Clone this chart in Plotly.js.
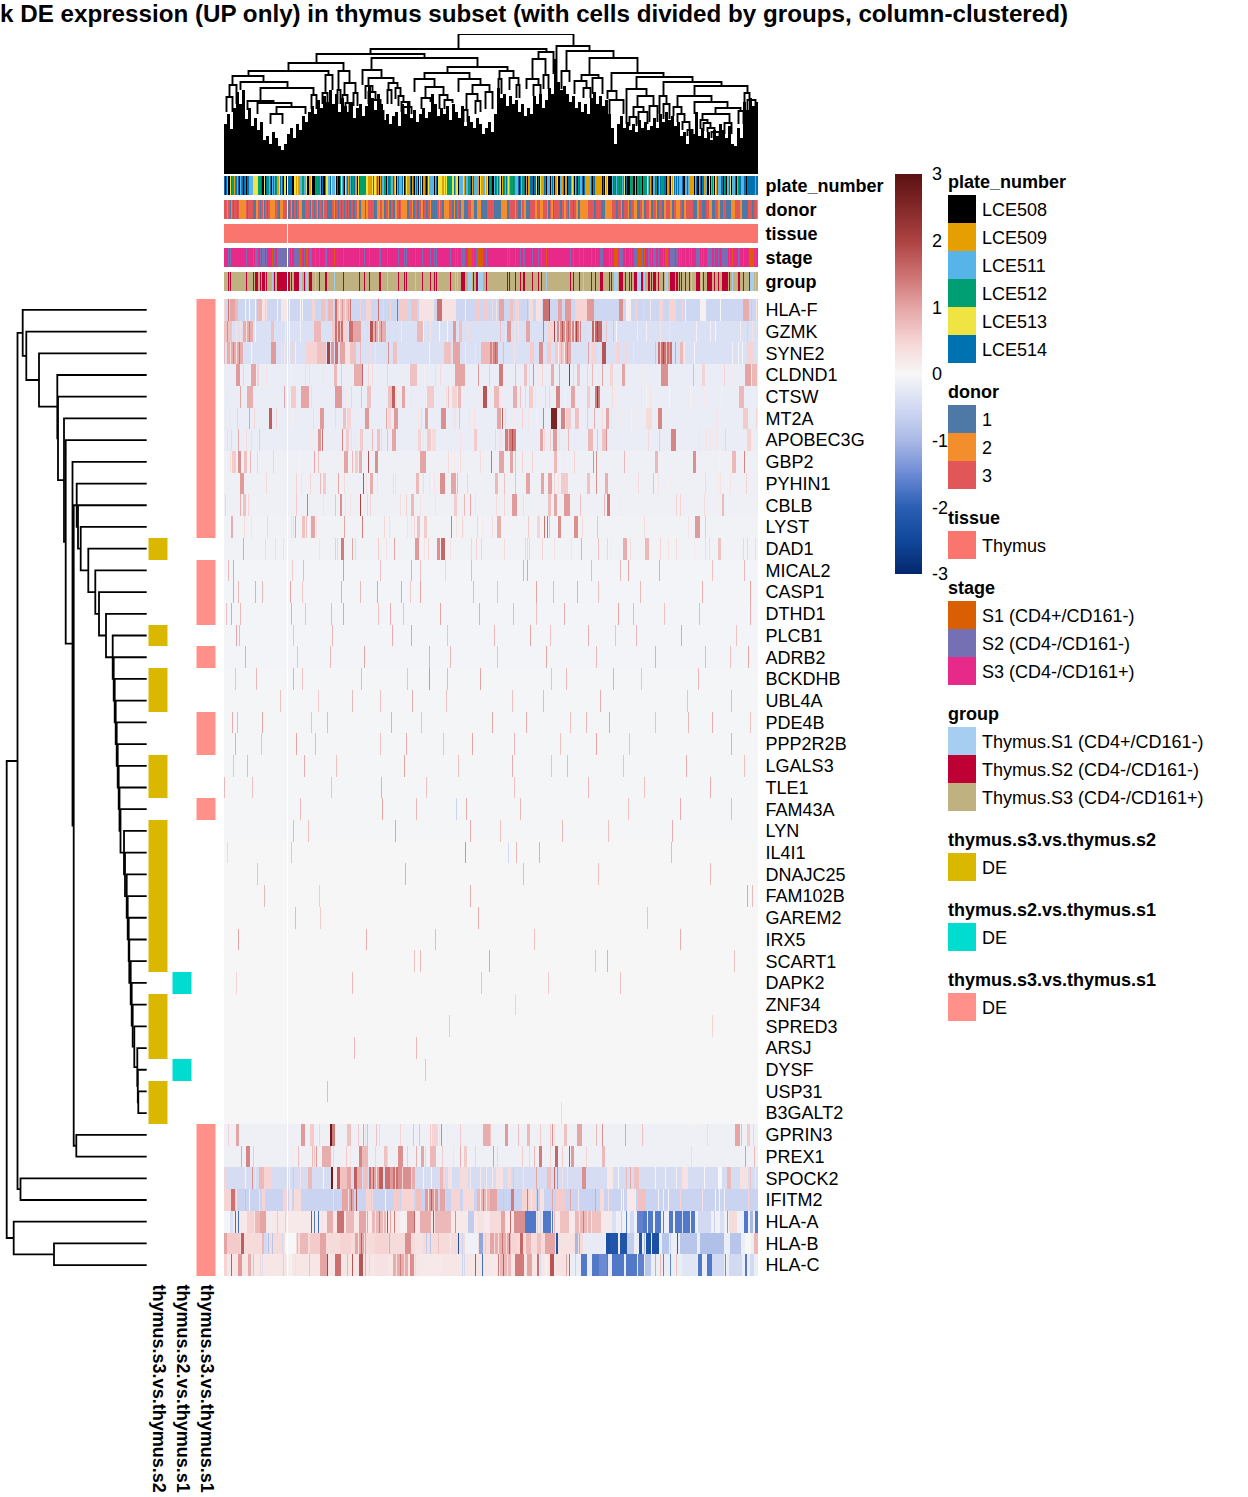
<!DOCTYPE html>
<html><head><meta charset="utf-8">
<script src="https://cdn.plot.ly/plotly-3.0.1.min.js"></script>
<style>html,body{margin:0;padding:0;background:#fff}</style></head>
<body><div id="chart" style="width:1248px;height:1497px"></div>
<script>
const genes=["HLA-F","GZMK","SYNE2","CLDND1","CTSW","MT2A","APOBEC3G","GBP2","PYHIN1","CBLB","LYST","DAD1","MICAL2","CASP1","DTHD1","PLCB1","ADRB2","BCKDHB","UBL4A","PDE4B","PPP2R2B","LGALS3","TLE1","FAM43A","LYN","IL4I1","DNAJC25","FAM102B","GAREM2","IRX5","SCART1","DAPK2","ZNF34","SPRED3","ARSJ","DYSF","USP31","B3GALT2","GPRIN3","PREX1","SPOCK2","IFITM2","HLA-A","HLA-B","HLA-C"];
const titleText="k DE expression (UP only) in thymus subset (with cells divided by groups, column-clustered)";
const nCols=534, gapCol=63;
const baseLevel=[-.55,-.38,-.38,-.17,-.17,-.17,-.17,-.12,-.12,-.12,-.08,-.08,-.05,-.05,-.05,-.05,-.05,-.04,-.04,-.04,-.04,-.04,-.04,-.04,-.04,-.01,-.01,-.01,-.01,-.01,-.01,-.01,-.01,-.01,-.01,-.01,-.01,-.01,-.12,-.12,-.45,-.6,.2,.4,.25];
// expression hits per gene: [column, value] or [column, width, value]
const hits=[];
hits[0]=[[0,.5],[4,1.5],[6,5,1],[11,3,.8],[21,0],[25,0],[31,0],[33,5,.8],[38,3,.3],[42,.3],[53,0],[57,7,.25],[65,0],[76,0],[78,0],[88,3,.5],[97,4,.7],[104,5,.8],[111,2,1.5],[113,13,.7],[115,.2],[118,1.1],[121,.3],[124,1],[126,1.5],[136,.5],[142,5,.5],[154,1.5],[159,.5],[166,.5],[173,1.6],[175,8,.6],[187,6,.7],[195,15,.3],[213,5,1.5],[218,14,.3],[241,.1],[252,3,.6],[260,3,.6],[268,.4],[272,.3],[275,5,1],[286,3,.7],[291,4,.5],[303,.8],[305,4,.4],[312,6,.3],[319,6,1.5],[325,2],[334,4,1],[341,6,1.1],[351,12,.5],[363,7,1.1],[395,4,1.2],[402,5,.1],[412,.5],[419,.5],[426,.2],[435,4,.5],[445,7,.5],[458,.5],[461,0],[476,6,.1],[496,0],[519,6,.9],[527,.7],[532,.3]];
hits[1]=[[0,8,.7],[3,1.2],[12,.3],[16,.3],[19,10,.9],[22,.3],[25,1.3],[31,0],[47,3,.7],[61,.2],[65,0],[76,.1],[90,7,.8],[108,4,.6],[111,8,1.5],[113,.5],[116,.7],[120,4,.5],[125,5,1.5],[129,8,1],[143,.5],[146,4,1.8],[149,13,.9],[151,1.6],[154,.3],[157,1.4],[165,.5],[171,.5],[177,.2],[193,6,.8],[199,0],[206,.3],[215,0],[223,0],[229,3,1.1],[235,3,.7],[244,.4],[276,.7],[281,.3],[283,4,1.1],[290,.3],[294,.3],[302,4,1],[319,1.4],[324,5,.5],[330,2],[333,14,1.2],[335,.3],[338,1.8],[341,.4],[344,1.6],[348,9,1.3],[350,.4],[352,2],[355,.5],[361,.5],[368,10,1.6],[370,.4],[373,2],[382,.7],[389,.7],[392,0],[413,.2],[422,.1],[436,.3],[445,.3],[472,.1],[486,.1],[491,0],[516,.2],[523,.6],[528,.3]];
hits[2]=[[0,.8],[3,16,.9],[6,.4],[9,1.3],[12,.3],[15,1.4],[27,0],[47,5,1.1],[57,.3],[60,.2],[65,.1],[67,3,.5],[71,.1],[82,12,.5],[93,9,.7],[103,3,2],[107,3,1.1],[111,3,1.5],[116,6,1],[121,6,.3],[126,6,.7],[136,.8],[146,.4],[151,.3],[164,1.2],[169,4,.7],[205,.05],[220,7,.7],[229,7,1],[241,.2],[251,.3],[257,10,.8],[266,8,1.3],[268,.8],[271,1.6],[279,.8],[290,.3],[306,4,.6],[315,4,1.2],[323,4,.6],[331,11,.6],[334,.1],[337,.9],[340,.2],[341,6,1],[343,1.4],[364,1],[368,4,.5],[375,.4],[378,4,1.8],[392,4,.5],[402,.5],[409,.3],[431,.8],[434,14,1.5],[436,.6],[439,1.9],[442,.7],[445,1.1],[451,1],[456,3,.8],[460,.2],[470,0],[508,.05],[514,.05],[518,0],[523,7,.5]];
hits[3]=[[12,4,1.1],[19,.5],[27,5,1],[33,.5],[34,.5],[42,.3],[67,.1],[81,.4],[85,.4],[99,.3],[110,3,.8],[117,.6],[130,4,.9],[134,4,.9],[138,1.6],[144,.5],[148,.4],[163,.5],[186,7,.7],[200,.1],[211,.4],[216,.4],[231,10,1],[254,1.1],[265,.6],[275,4,1.4],[291,.7],[300,3,.7],[305,.4],[309,1.2],[314,.3],[318,.5],[327,3,.9],[335,.9],[345,2.2],[349,.5],[353,3,.7],[363,.5],[368,.8],[378,1],[386,3,.5],[398,3,1],[415,.2],[418,.2],[437,7,1.2],[449,.2],[469,.8],[478,3,.5],[500,.5],[508,.2],[521,6,1],[528,4,.8],[532,.8]];
hits[4]=[[3,.3],[16,1],[23,6,.9],[60,1],[67,5,.6],[77,8,1],[87,.4],[111,7,1.1],[119,.3],[122,.2],[127,.5],[137,.7],[143,4,.7],[164,6,.7],[168,3,1.7],[172,.4],[178,3,1],[187,.3],[203,7,.6],[222,.4],[224,.7],[228,5,.5],[234,3,.8],[256,.2],[259,4,1.8],[270,5,.8],[276,.3],[289,4,.9],[296,.7],[301,.5],[305,4,.6],[311,.3],[321,.5],[325,.5],[332,4,1.3],[341,.1],[347,4,1],[363,3,.6],[371,5,1.4],[373,2.2],[388,.4],[392,.2],[417,.3],[422,.1],[426,.3],[445,.05],[466,.1],[480,.2],[489,.2],[497,.1],[515,5,.8]];
hits[5]=[[1,.3],[5,.3],[13,.5],[25,1],[30,.5],[45,3,1.7],[52,.5],[68,.1],[89,.4],[96,4,1.1],[111,.4],[119,3,.7],[123,4,.5],[131,.2],[141,4,1.1],[162,1],[164,3,.5],[170,4,1.1],[194,.3],[197,.5],[201,3,1],[217,5,1.2],[229,3,.3],[235,.7],[245,.3],[248,.2],[250,.3],[273,4,1],[278,1.7],[281,.5],[290,.2],[298,.5],[304,.3],[313,.1],[319,1.4],[327,6,2.6],[337,4,1.3],[342,5,.6],[351,4,.7],[363,.6],[370,.9],[378,.4],[382,3,1],[387,.3],[396,.2],[407,.1],[412,.2],[422,6,.4],[434,4,1.3],[492,.3],[519,5,.6],[532,.5]];
hits[6]=[[1,.2],[3,.4],[7,.5],[14,.9],[22,.4],[27,.4],[35,.6],[86,.2],[94,3,1.1],[98,1.5],[118,1.3],[122,3,.6],[127,.4],[131,.3],[136,3,.6],[148,.8],[153,3,.7],[157,.5],[163,.7],[168,4,1],[194,3,.5],[199,.3],[203,4,.6],[208,4,.4],[236,.3],[250,3,.6],[271,.5],[275,3,.3],[281,11,1.4],[284,.7],[288,1.9],[316,3,1],[320,.5],[326,.6],[329,4,1.1],[335,.4],[344,.8],[364,5,.8],[373,.7],[378,4,.7],[382,1.2],[391,.2],[424,.4],[435,.6],[447,5,1.3],[475,.3],[482,.3],[486,.3],[492,.3],[501,.5],[523,4,.5],[528,.2]];
hits[7]=[[6,.4],[8,4,.6],[14,3,1.2],[20,3,.7],[26,.8],[33,.5],[49,.5],[75,.05],[90,1],[94,.7],[120,4,1],[128,.8],[131,3,.6],[135,3,.9],[144,1.8],[151,3,1.2],[196,6,1],[224,.4],[230,.2],[236,.4],[256,.4],[267,1.5],[275,5,1],[286,3,1],[291,.7],[298,.5],[308,.5],[330,3,.8],[339,.2],[350,.5],[369,1.2],[372,1.2],[400,.8],[431,3,.8],[469,3,1.2],[495,.1],[508,4,.8],[520,1.3]];
hits[8]=[[16,4,1.1],[42,.4],[72,.5],[77,.3],[86,.5],[96,.8],[99,3,.6],[114,1],[120,.4],[139,1.8],[142,.3],[146,3,.9],[153,.3],[169,.4],[171,.3],[192,3,.8],[199,.4],[205,.3],[210,.3],[216,5,1.2],[227,5,1],[233,.8],[243,.5],[271,3,.8],[280,.7],[291,.7],[302,4,1],[317,3,1],[324,4,1],[330,.5],[334,.3],[337,7,.6],[363,3,.7],[372,1.2],[381,3,.9],[414,.4],[429,.7],[434,.3],[444,.1],[481,.4],[494,.2],[496,.3],[506,.3],[522,.5]];
hits[9]=[[1,.5],[16,.9],[19,3,.7],[24,.5],[31,.1],[72,.6],[83,1.4],[99,.3],[111,.7],[116,2,1.2],[121,.3],[126,.3],[136,2],[143,.5],[146,.5],[176,.4],[182,.5],[187,3,.8],[196,.3],[211,.3],[230,3,.6],[240,.8],[246,1],[251,.3],[272,.4],[280,.5],[288,5,1.1],[299,.4],[324,3,.7],[330,3,1],[340,6,1.1],[356,.7],[380,.8],[383,3,1.4],[395,.2],[452,.5],[456,.5],[480,.4],[498,2,.8]];
hits[10]=[[7,2,.9],[20,.4],[27,.3],[43,.5],[67,.4],[69,.4],[71,1],[78,3,.7],[82,.7],[87,4,1],[92,.3],[120,1],[138,1.4],[160,.5],[165,.4],[183,.3],[187,.3],[190,.5],[193,3,.7],[200,3,.6],[227,1.4],[232,.3],[238,.5],[253,.5],[258,.2],[268,.4],[273,4,.9],[304,.6],[313,3,.5],[320,1.5],[323,1.5],[325,.7],[334,3,1.2],[350,4,1.2],[358,.4],[373,.7],[420,.4],[464,.3],[471,5,1.1],[481,.6]];
hits[11]=[[19,1],[41,.4],[51,.4],[59,.4],[95,.3],[111,.6],[113,.5],[117,3,1.4],[128,1],[131,.5],[154,.6],[162,.3],[170,1],[191,4,1.1],[200,.3],[204,.5],[213,3,1.2],[217,4,1.6],[226,.3],[247,.5],[252,.5],[257,.5],[280,.4],[301,.5],[303,.5],[305,.5],[318,.5],[330,.3],[347,.3],[357,.9],[374,.7],[383,.5],[387,.2],[399,4,.9],[406,.4],[421,4,.8],[436,.5],[444,.3],[452,.4],[470,.2],[481,.4],[485,.4],[494,3,.7],[519,.5],[523,.5],[531,.4]];
hits[12]=[[4,.8],[9,1],[68,.6],[79,.8],[119,1.1],[156,.7],[187,.9],[196,.7],[221,.5],[247,.8],[299,.9],[303,1],[367,.8],[396,.8],[404,1],[435,.9],[488,.7],[520,.8]];
hits[13]=[[9,1],[14,.8],[31,.9],[38,.8],[66,1],[78,.6],[117,.9],[136,.8],[153,1],[177,1],[186,.6],[196,1],[249,.8],[273,.7],[312,1],[329,.8],[353,.9],[374,.7],[416,.8],[478,.9],[526,1]];
hits[14]=[[2,.7],[7,1],[16,.8],[67,.9],[81,.7],[107,.8],[119,1],[154,.7],[166,.9],[179,.7],[216,1],[255,.9],[289,.8],[312,.7],[340,.9],[394,1],[409,.8],[440,.7],[475,.8],[526,.9]];
hits[15]=[[12,1],[15,.8],[69,.7],[108,.8],[168,.9],[187,1],[223,.7],[270,.8],[306,1],[326,.7],[364,.9],[391,.7],[412,.8],[457,1],[512,.7]];
hits[16]=[[21,.9],[73,.7],[106,.8],[140,1],[205,-.9],[226,.8],[273,.7],[322,1],[372,.8],[431,.9],[481,.8],[506,.7],[524,1]];
hits[17]=[[11,.7],[32,.8],[69,.9],[78,.7],[137,.8],[183,.7],[205,-1.2],[223,.8],[256,1],[327,.7],[342,.8],[389,.9],[417,.7],[474,.8]];
hits[18]=[[56,.7],[94,.6],[128,.8],[156,.7],[188,.9],[222,.7],[288,.7],[319,.8],[376,.9],[463,.7],[507,.8]];
hits[19]=[[8,.9],[13,.8],[38,1],[87,.7],[103,.8],[167,.9],[197,.7],[268,1],[302,.9],[346,.7],[362,.8],[385,1],[431,.7],[464,.8],[488,.9],[526,.7]];
hits[20]=[[11,.9],[37,.7],[72,1],[91,.8],[156,.7],[182,.9],[219,.7],[248,1],[290,.8],[336,.7],[372,1],[405,.7],[507,.9]];
hits[21]=[[9,.7],[23,.8],[80,.9],[112,.7],[180,1],[234,.7],[288,.9],[327,.7],[343,.8],[399,.7],[462,.9],[520,.7]];
hits[22]=[[0,.8],[28,.7],[107,.7],[157,.9],[202,.7],[290,.7],[364,.8],[420,.7],[486,.9]];
hits[23]=[[76,.8],[158,1],[192,.8],[232,-.6],[242,.9],[296,.8],[404,.7],[456,.9],[507,.8]];
hits[24]=[[69,.8],[84,.7],[171,1],[246,.9],[276,.7],[338,.8],[384,.7],[448,.9]];
hits[25]=[[3,.5],[67,.7],[241,1.2],[284,-.5],[292,.8],[315,.9],[447,.8]];
hits[26]=[[33,.7],[181,.9],[299,.8],[374,.7],[486,.8]];
hits[27]=[[40,.8],[95,.6],[246,.9],[523,1],[528,.8]];
hits[28]=[[71,.8],[96,.6],[254,.9],[423,.7]];
hits[29]=[[14,1],[142,.9],[211,.8],[310,.7],[456,.9]];
hits[30]=[[190,.7],[196,.8],[265,1],[371,.7],[383,.9],[510,.7]];
hits[31]=[[12,.5],[128,.8],[257,.7],[324,.6],[396,.7]];
hits[32]=[[291,-.5]];
hits[33]=[[225,-.6],[488,.5]];
hits[34]=[[130,.8],[192,.8]];
hits[35]=[[201,.7]];
hits[36]=[[103,.8]];
hits[37]=[[337,-.4]];
hits[38]=[[4,.5],[12,3,1],[77,4,1.1],[86,4,.6],[95,.5],[106,3,2.8],[108,3,1.4],[123,4,.7],[134,.6],[139,1],[141,.4],[143,.8],[152,.7],[155,.5],[176,.5],[189,.7],[195,.7],[206,.6],[208,6,.5],[215,.3],[217,1.3],[223,.2],[236,.6],[259,7,.9],[266,.7],[281,3,1.1],[294,.7],[303,3,.8],[316,.6],[326,.6],[328,1.2],[330,.4],[340,3,.7],[353,5,1],[372,.8],[378,1.2],[401,1],[418,.7],[470,.1],[483,.4],[511,5,1],[517,.8],[523,3,.6],[529,.5]];
hits[39]=[[17,1],[22,4,1.3],[29,.6],[68,.2],[74,.7],[88,.8],[90,.7],[92,1.1],[98,9,.9],[109,.5],[122,.6],[126,.3],[135,4,1.3],[138,6,.8],[151,.5],[160,3,.7],[163,.5],[174,5,1.2],[183,.6],[192,.9],[197,3,1],[201,.5],[206,6,.8],[218,.6],[229,.3],[236,.9],[240,3,.6],[251,.5],[269,1.1],[273,.5],[298,.6],[305,.5],[310,.8],[315,3,1.4],[326,.5],[331,3,1.6],[338,.6],[345,1.8],[347,3,1.1],[362,.5],[378,3,.8],[467,.4],[521,1.1],[530,.8]];
hits[40]=[[0,.5],[21,0],[28,1.2],[31,.3],[35,5,.8],[40,7,.5],[65,.1],[69,.7],[76,.3],[84,4,.8],[99,0],[107,3,2.8],[109,5,.2],[113,4,1.7],[116,8,.7],[123,4,1],[130,4,1.7],[133,5,.9],[139,5,.7],[145,3,1.5],[147,10,1],[149,1.7],[152,.4],[155,1.6],[156,3,1.7],[161,6,1.5],[166,8,1.1],[169,6,1.5],[171,.6],[174,9,1.2],[178,.5],[182,5,1.2],[188,3,.9],[199,0],[207,0],[216,3,.8],[220,.5],[224,4,.3],[236,8,.4],[246,.2],[256,.2],[262,.2],[268,.2],[272,7,.3],[284,3,.4],[289,.7],[299,.2],[312,1],[323,4,.7],[330,1.6],[333,1.2],[338,.3],[343,.3],[358,4,1.2],[383,6,.2],[394,0],[402,.8],[406,1],[410,5,.7],[431,0],[441,0],[452,.1],[458,6,.3],[467,.5],[480,0],[494,4,0],[503,4,.8],[516,8,.3],[526,.7],[531,.3]];
hits[41]=[[0,7,.5],[7,4,1.5],[12,.3],[21,.8],[25,0],[35,.3],[38,3,.5],[59,4,.5],[65,3,.3],[70,7,.4],[109,.4],[115,.6],[118,4,1],[122,8,1],[124,.3],[127,1.6],[132,1.8],[142,5,.5],[148,.4],[161,0],[169,7,.6],[177,13,.5],[192,5,.7],[201,13,1.1],[204,.3],[207,1.7],[210,.5],[216,5,1],[227,9,.5],[239,11,.4],[253,14,.8],[256,.2],[259,1.4],[262,.3],[266,7,1],[279,.7],[283,.6],[287,3,1.4],[298,14,.5],[303,1.4],[307,.2],[313,1.3],[316,4,.3],[328,1],[332,10,.6],[346,1],[354,.2],[371,1],[376,4,.4],[384,.3],[397,0],[399,0],[403,9,.2],[414,8,.7],[434,.1],[439,.1],[444,0],[456,.5],[478,.3],[491,0],[495,0],[500,.1],[524,.5]];
hits[42]=[[388,146,-.1],[0,7,-.05],[6,3,-.4],[11,-1.8],[14,-1.8],[23,7,.5],[31,11,.8],[36,6,1],[46,-.1],[53,-.6],[61,-.5],[73,-.2],[87,-1.8],[90,-1.7],[94,-1.8],[98,.3],[103,6,.9],[113,7,1.5],[122,8,.8],[135,7,1],[143,-1],[148,14,.8],[151,.2],[155,1.4],[159,.3],[163,-1.8],[166,1],[170,1.4],[176,8,.1],[183,7,1.1],[190,1.6],[196,11,.9],[209,-1.8],[211,16,.8],[231,1.2],[244,6,-.7],[253,7,.3],[266,11,.4],[277,4,1],[286,1.6],[290,11,1.2],[301,8,-1.7],[309,3,-1.7],[313,-.5],[316,-.5],[319,8,-1.7],[328,-1.7],[330,.8],[336,9,.7],[351,16,.8],[355,.2],[359,1.4],[363,.3],[368,9,.7],[388,4,-.4],[394,-.2],[397,.7],[402,-1.6],[406,4,-.5],[413,6,-1.6],[419,4,-1.7],[424,5,-1.7],[431,6,-1.7],[439,-1.6],[445,4,-1.7],[451,15,-1.7],[458,-.4],[467,4,-1.7],[474,13,-.5],[490,-.6],[496,4,-.4],[503,1.3],[505,8,.4],[520,4,-1.7],[526,3,-1],[531,3,-1.7]];
hits[43]=[[359,175,-.15],[0,4,1],[3,13,.6],[17,3,1.7],[38,3,.8],[40,3,-.5],[44,-.9],[48,-.8],[58,-.5],[61,11,0],[73,-.8],[76,8,.8],[86,11,.6],[96,6,1],[116,11,.5],[131,11,1],[134,.3],[137,1.7],[140,.4],[151,13,.5],[165,-1],[181,6,1.2],[191,8,.3],[202,-.7],[206,-.8],[214,.7],[226,.2],[234,-2.2],[238,-.6],[241,13,-.1],[255,4,-1.2],[261,-.6],[266,4,1],[271,16,.9],[274,.3],[278,1.5],[282,.4],[285,1.7],[288,5,.5],[296,3,1.6],[302,5,.8],[313,4,.7],[321,10,1],[332,3,-2.2],[334,16,.3],[351,3,-1],[355,1],[359,21,-.2],[382,4,-2.3],[386,8,-2.2],[396,7,-2.2],[403,7,-.7],[415,3,-2.2],[420,-1],[422,5,-2.3],[428,7,-2.3],[438,7,-.8],[446,-.6],[453,-2],[456,17,-.8],[476,24,-.9],[506,11,-.8],[521,6,0],[530,4,.8]];
hits[44]=[[345,189,-.15],[0,3,.5],[7,1.7],[14,4,1.1],[24,3,.9],[29,.7],[36,.5],[38,-.4],[59,-.6],[64,4,.1],[71,-.3],[85,.7],[96,7,1],[103,2],[111,6,1.5],[123,.8],[128,1.8],[135,4,1.8],[141,.9],[145,-.4],[151,13,.3],[169,15,.9],[172,.3],[176,1.4],[180,.4],[186,4,1.2],[191,-.4],[196,21,.2],[238,-.6],[240,-.5],[251,-1.7],[258,-1.8],[266,7,.2],[274,1.4],[276,11,.8],[279,1.7],[283,.3],[291,9,1.4],[303,5,1],[313,2,1.5],[316,-.5],[321,2,.1],[326,4,1.8],[332,10,.3],[342,1],[345,-1.6],[351,-.6],[357,6,-1.7],[368,7,-1.7],[375,8,-1.5],[383,-1.7],[388,12,-1.7],[402,5,-1.7],[407,6,-1.7],[414,6,-1.6],[421,6,-.8],[431,1],[436,.8],[439,-1.6],[446,-1.6],[452,.7],[458,15,-.3],[474,4,-1.7],[483,5,-1.7],[488,12,-.5],[501,-1.5],[505,13,-.5],[521,2,-1.7],[526,4,-.5]];

const plateCodes="5052004533"+"1352502350"+"5305522224"+"4444333500"+"4053325025"+"2532145250"+"4400555500"+"4414122233"+"2240011400"+"0333332050"+"0344215421"+"2405003425"+"0425132533"+"5210453333"+"3344111245"+"4415101521"+"3302553225"+"1402522254"+"0541115015"+"0152045402"+"1505422222"+"0250444411"+"4143333344"+"5244022224"+"1322335015"+"2221104112"+"241405"+"3500253152"+"4015325241"+"3335322150"+"5133501012"+"5550554050"+"4112530222"+"0152021400"+"2113011055"+"5241015035"+"2250511111"+"2503521111"+"1105041400"+"0025352335"+"3523405000"+"3330010335"+"3303333425"+"1502253051"+"5333550115"+"0414525152"+"2250022521"+"1111015002"+"5055122004"+"0231041522"+"2550350125"+"4022250135"+"5222550555"+"55555255";
const donorRuns=[[0,3],[3,2],[4,3],[6,1],[7,2],[8,3],[9,1],[10,3],[13,1],[14,3],[15,2],[22,3],[23,1],[24,3],[29,1],[32,2],[34,3],[36,1],[37,3],[39,2],[40,1],[41,3],[43,1],[44,3],[46,2],[51,3],[54,1],[56,2],[59,3],[64,1],[66,3],[67,2],[68,1],[70,3],[72,1],[73,3],[75,2],[78,1],[81,3],[86,1],[87,2],[88,3],[90,1],[91,3],[93,2],[94,1],[95,3],[98,1],[99,2],[100,3],[103,1],[108,3],[110,2],[111,1],[112,3],[114,1],[115,3],[117,1],[118,3],[120,1],[121,3],[123,1],[124,3],[125,1],[127,3],[129,1],[131,3],[133,2],[135,1],[137,2],[141,1],[142,2],[144,3],[150,1],[153,2],[156,3],[158,2],[160,1],[162,3],[164,2],[165,1],[167,3],[169,1],[171,2],[173,3],[175,1],[176,3],[177,2],[183,1],[185,3],[188,2],[189,1],[191,3],[193,1],[195,3],[197,2],[199,1],[200,3],[202,1],[204,3],[206,2],[207,1],[213,3],[215,2],[216,3],[218,1],[220,2],[225,3],[228,1],[230,2],[231,1],[233,3],[235,1],[237,2],[240,1],[244,3],[247,2],[250,1],[253,2],[257,1],[263,3],[270,1],[277,2],[283,1],[285,3],[291,2],[292,3],[294,1],[297,2],[298,3],[300,2],[302,1],[306,3],[311,2],[313,3],[316,2],[319,3],[323,2],[324,1],[326,3],[327,2],[329,1],[330,3],[336,1],[338,3],[340,2],[342,3],[344,1],[345,2],[346,3],[349,1],[350,3],[352,2],[354,1],[356,2],[364,3],[370,1],[372,3],[377,1],[381,2],[388,3],[392,1],[394,3],[397,2],[398,1],[400,3],[404,2],[405,1],[407,3],[410,2],[413,1],[416,3],[418,2],[420,1],[422,3],[425,2],[427,1],[429,3],[432,2],[433,1],[435,3],[438,1],[440,2],[442,3],[446,2],[448,1],[450,3],[452,2],[456,3],[458,1],[460,2],[462,3],[469,1],[473,2],[475,3],[478,1],[482,3],[485,2],[488,1],[491,3],[494,2],[496,1],[499,3],[502,1],[507,2],[511,3],[516,2],[518,1],[524,3],[528,1],[530,3],[533,2]];
// cells not in stage/group S3: [column, width, stage]
const stageRuns=[[4,1,2],[6,1,2],[22,1,2],[29,1,2],[31,3,2],[36,1,2],[38,3,2],[42,1,2],[48,1,1],[50,1,2],[53,8,2],[61,2,2],[64,2,2],[67,1,2],[70,5,2],[75,3,1],[80,1,2],[82,2,1],[85,3,2],[91,1,1],[95,1,2],[101,2,2],[110,1,1],[119,1,2],[135,1,2],[140,1,2],[145,1,2],[155,2,2],[163,1,1],[174,1,2],[180,1,2],[182,1,2],[191,1,1],[198,1,2],[206,1,2],[210,1,2],[212,1,2],[226,1,2],[231,1,1],[233,1,1],[237,4,2],[244,4,1],[249,1,2],[252,2,2],[254,5,1],[262,1,2],[283,1,2],[285,1,2],[291,1,2],[296,1,2],[299,2,2],[308,1,2],[314,1,2],[317,1,2],[322,1,1],[346,1,2],[349,1,2],[355,1,2],[359,1,1],[367,1,2],[371,1,2],[376,3,2],[385,1,2],[387,1,2],[390,4,1],[395,4,2],[401,1,2],[405,1,2],[407,1,2],[410,3,2],[413,4,1],[417,2,2],[420,1,1],[424,2,2],[427,1,2],[429,3,2],[434,1,2],[439,1,2],[441,3,1],[446,5,2],[452,2,2],[455,1,2],[457,1,2],[461,1,2],[465,1,2],[467,1,1],[472,4,2],[477,1,1],[479,1,2],[483,5,2],[490,1,2],[494,1,2],[498,6,2],[505,1,2],[508,1,1],[514,2,2],[519,1,2],[525,1,2],[526,4,1],[531,1,1]];

const annoS3S2=[11,15,17,18,21,22,24,25,26,27,28,29,30,32,33,34,36,37];
const annoS2S1=[31,35];
const annoS3S1=[0,1,2,3,4,5,6,7,8,9,10,12,13,14,16,19,20,23,38,39,40,41,42,43,44];
const contrasts=["thymus.s3.vs.thymus.s2","thymus.s2.vs.thymus.s1","thymus.s3.vs.thymus.s1"];

// row clustering, bottom up: [child, child, height]; children < 100 are genes, >= 100 are earlier merges
const rowMerges=[[36,37,138.3],[35,100,137.8],[34,101,137.3],[33,102,134.3],[32,103,132.7],[31,104,131.7],[30,105,130.7],[29,106,129.3],[28,107,128.7],[27,108,127.7],[26,109,126.7],[25,110,125],[24,111,124],[23,112,120.5],[22,113,119.5],[21,114,118.7],[20,115,117.7],[19,116,116.7],[18,117,115.7],[17,118,114.7],[16,119,113.7],[15,120,112.7],[14,121,106],[13,122,99],[12,123,95.3],[11,124,88.3],[10,125,80.7],[9,126,78],[8,127,76.7],[38,39,76.3],[128,129,73.7],[7,130,72.5],[6,131,65.7],[5,132,64],[4,133,58],[3,134,57.3],[2,135,39],[1,136,26.3],[0,137,22.7],[40,41,20.5],[138,139,17.5],[43,44,54],[42,141,13.7],[140,142,6.7]];
const rowLeafHeight=146.7;
// column clustering, visible upper part: [colLeft, colRight, height, heightLeft, heightRight]
const colMerges=[[234,349,140,125,128],[146,322,125,120,122],[92,200,120,111,116],[64,119,111,103,103],[147,253,116,104,107],[138,157,104,89,96],[223,283,107,101,103],[200,245,101,95,95],[190,210,95,82,87],[201,219,87,76,79],[197,206,76,65,72],[215,223,79,65,74],[220,228,74,65,71],[234,256,95,82,89],[248,265,89,80,82],[242,253,80,64,73],[239,243,64,52,52],[251,256,73,60,62],[261,268,82,65,65],[275,289,103,95,96],[274,277,95,80,80],[285,294,96,84,89],[292,295,89,76,76],[114,125,103,84,91],[120,131,91,79,81],[118,123,79,68,71],[121,125,71,60,60],[129,133,81,68,68],[113,116,84,70,70],[24,104,103,98,99],[8,39,98,89,92],[5,12,89,77,70],[2,8,77,62,62],[16,63,92,84,86],[36,89,86,73,79],[23,49,73,64,71],[33,67,71,60,67],[52,81,67,60,60],[46,58,60,50,50],[87,92,79,65,65],[101,108,99,81,84],[98,103,81,70,70],[144,169,96,88,91],[141,148,88,75,82],[144,151,82,70,74],[148,156,74,60,63],[153,159,63,54,54],[164,173,91,84,86],[163,167,84,70,70],[171,176,86,75,78],[174,179,78,68,72],[177,185,72,62,67],[179,187,67,60,60],[314,329,122,115,100],[308,321,115,95,99],[302,314,95,85,89],[309,316,89,78,78],[319,324,99,85,85],[332,365,128,85,123],[342,389,123,103,116],[337,345,103,85,92],[365,413,116,99,101],[357,374,99,93,96],[350,362,93,80,86],[359,366,86,76,76],[368,378,96,80,80],[387,439,101,83,97],[383,392,83,75,74],[385,399,74,60,60],[412,468,97,85,92],[402,422,85,50,78],[413,429,78,67,68],[409,419,67,57,62],[405,412,57,48,48],[414,423,62,50,50],[425,433,68,52,52],[439,497,92,78,88],[435,442,78,60,70],[439,445,70,55,55],[470,523,88,78,81],[453,487,78,67,72],[449,457,67,58,60],[453,460,60,52,52],[458,465,52,44,44],[463,468,44,38,38],[470,503,72,60,66],[491,516,66,60,63],[478,505,60,54,51],[476,483,54,45,51],[479,486,51,43,46],[483,490,46,42,42],[487,495,42,36,36],[500,507,51,40,40],[514,519,63,50,50],[520,525,81,72,74],[523,531,74,62,62]];
// skyline of the solid dendrogram mass, one height per 3 columns
const massHeights=[50,60,45,66,82,70,84,55,66,48,
56,44,52,34,38,30,42,36,28,24,
30,40,46,36,50,44,58,52,62,68,
60,74,66,78,72,84,70,80,62,76,
68,62,72,56,66,70,58,68,88,76,
64,80,70,54,60,50,58,62,48,70,
60,72,56,64,52,60,66,56,62,80,
70,58,66,60,68,54,70,62,56,68,
48,58,52,46,56,50,40,46,52,42,
60,86,76,80,68,78,70,74,62,70,
58,66,60,78,70,80,66,74,86,80,
115,92,84,88,80,72,78,66,72,62,
70,60,76,82,70,78,68,74,60,46,
30,50,58,46,52,44,50,42,54,46,
52,44,48,56,46,60,52,62,54,58,
48,52,38,42,30,44,40,62,38,46,
36,42,34,44,38,50,44,36,48,30,
28,46,36,72,64,76,68,72];

const heatStops=[[-3,"#03276d"],[-2.5,"#11479a"],[-2,"#2a5fb4"],[-1.5,"#6c8ad4"],[-1,"#a9b9e6"],[-.5,"#d2daf3"],[0,"#f7f7f7"],[.5,"#f6d4d4"],[1,"#e5a5a5"],[1.5,"#cc7070"],[2,"#ad4242"],[2.5,"#832828"],[3,"#5a1212"]];
const plateColors=["#000000","#E69F00","#56B4E9","#009E73","#F0E442","#0072B2"];
const donorColors=["#4E79A7","#F28E2B","#E15759"];
const tissueColor="#FB756F";
const stageColors=["#D95F02","#7570B3","#E7298A"];
const groupColors=["#A6CEF0","#BF0034","#C0B280"];
const contrastColors=["#DAB800","#00DDD0","#FF918A"];
const legendSections=[
 {title:"plate_number",top:168,labels:["LCE508","LCE509","LCE511","LCE512","LCE513","LCE514"],colors:plateColors},
 {title:"donor",top:378,labels:["1","2","3"],colors:donorColors},
 {title:"tissue",top:504,labels:["Thymus"],colors:[tissueColor]},
 {title:"stage",top:574,labels:["S1 (CD4+/CD161-)","S2 (CD4-/CD161-)","S3 (CD4-/CD161+)"],colors:stageColors},
 {title:"group",top:700,labels:["Thymus.S1 (CD4+/CD161-)","Thymus.S2 (CD4-/CD161-)","Thymus.S3 (CD4-/CD161+)"],colors:groupColors},
 {title:contrasts[0],top:826,labels:["DE"],colors:[contrastColors[0]]},
 {title:contrasts[1],top:896,labels:["DE"],colors:[contrastColors[1]]},
 {title:contrasts[2],top:966,labels:["DE"],colors:[contrastColors[2]]}
];

const W=1248,H=1497,FONT="Liberation Sans";
const dx=(a,b)=>[a/W,b/W];
const dy=(t,b)=>[1-b/H,1-t/H];
const columns=Array.from({length:nCols},(_,i)=>i);

// expression matrix
const zMain=genes.map((g,r)=>{
  const row=new Array(nCols).fill(baseLevel[r]);
  (hits[r]||[]).forEach(h=>{
    const c=h[0],w=h.length===3?h[1]:1,v=h[h.length-1];
    for(let i=c;i<c+w&&i<nCols;i++)row[i]=v;
  });
  row[gapCol]=null;
  return row;
});
const lo=heatStops[0][0],hi=heatStops[heatStops.length-1][0];
const mainScale=heatStops.map(s=>[(s[0]-lo)/(hi-lo),s[1]]);

// column annotations
const plateRow=columns.map(i=>i===gapCol?null:+(plateCodes[i]||"5"));
const donorRow=columns.map(i=>{
  if(i===gapCol)return null;
  let v=3;for(const r of donorRuns){if(r[0]<=i)v=r[1];else break;}
  return v-1;
});
const tissueRow=columns.map(i=>i===gapCol?null:0);
const stageRow=new Array(nCols).fill(2);
stageRuns.forEach(r=>{for(let i=r[0];i<r[0]+r[1];i++)stageRow[i]=r[2]-1;});
stageRow[gapCol]=null;
const stepScale=cs=>{
  if(cs.length===1)return [[0,cs[0]],[1,cs[0]]];
  const o=[];cs.forEach((c,i)=>{o.push([i/cs.length,c]);o.push([(i+1)/cs.length,c]);});return o;
};
const annoTrace=(name,row,cs,ax)=>({type:"heatmap",name,x:columns,y:[name],z:[row],xaxis:"x",yaxis:ax,
  colorscale:stepScale(cs),zmin:-.5,zmax:cs.length-.5,showscale:false,hoverinfo:"skip"});

// row dendrogram
const rowDendX=[],rowDendY=[];
(function(){
  const nodes=[];
  const pos=id=>id<100?{x:rowLeafHeight,y:id}:nodes[id-100];
  rowMerges.forEach(m=>{
    const a=pos(m[0]),b=pos(m[1]);
    rowDendX.push(a.x,m[2],m[2],b.x,null);
    rowDendY.push(a.y,a.y,b.y,b.y,null);
    nodes.push({x:m[2],y:(a.y+b.y)/2});
  });
})();
// column dendrogram
const colDendX=[],colDendY=[];
colMerges.forEach(m=>{
  colDendX.push(m[0],m[0],m[1],m[1],null);
  colDendY.push(m[3],m[2],m[2],m[4],null);
});
const massX=massHeights.map((h,i)=>i*3-.5).concat([nCols-.5]);
const massY=massHeights.concat([massHeights[massHeights.length-1]]);

// row annotation matrix
const zRowAnno=genes.map((g,r)=>[annoS3S2.includes(r)?0:null,annoS2S1.includes(r)?1:null,annoS3S1.includes(r)?2:null]);

const traces=[
 {type:"heatmap",x:columns,y:genes.map((g,i)=>i),z:zMain,colorscale:mainScale,zmin:-3,zmax:3,xaxis:"x",yaxis:"y",hoverongaps:false,
  colorbar:{x:895/W,xanchor:"left",xpad:0,y:1-174/H,yanchor:"top",ypad:0,len:400,lenmode:"pixels",thickness:27,thicknessmode:"pixels",outlinewidth:0,
    tickvals:[-3,-2,-1,0,1,2,3],ticktext:["-3","-2","-1","0","1","2","3"],ticks:"outside",ticklen:7,tickcolor:"rgba(0,0,0,0)",tickfont:{family:FONT,size:18,color:"#000"}}},
 annoTrace("plate_number",plateRow,plateColors,"y2"),
 annoTrace("donor",donorRow,donorColors,"y3"),
 annoTrace("tissue",tissueRow,[tissueColor],"y4"),
 annoTrace("stage",stageRow,stageColors,"y5"),
 annoTrace("group",stageRow,groupColors,"y6"),
 {type:"heatmap",x:[0,1,2],y:genes.map((g,i)=>i),z:zRowAnno,xaxis:"x3",yaxis:"y",xgap:5,colorscale:stepScale(contrastColors),zmin:-.5,zmax:2.5,showscale:false,hoverinfo:"skip"},
 {type:"scatter",mode:"lines",x:rowDendX,y:rowDendY,xaxis:"x2",yaxis:"y",line:{color:"#000",width:1.8},hoverinfo:"skip",showlegend:false},
 {type:"scatter",mode:"lines",x:massX,y:massY,xaxis:"x",yaxis:"y7",line:{color:"#000",width:0,shape:"hv"},fill:"tozeroy",fillcolor:"#000",hoverinfo:"skip",showlegend:false},
 {type:"scatter",mode:"lines",x:colDendX,y:colDendY,xaxis:"x",yaxis:"y7",line:{color:"#000",width:1.9},hoverinfo:"skip",showlegend:false}
];

const hidden={showgrid:false,zeroline:false,showline:false,ticks:"",showticklabels:false};
const annoAxis=(t,b)=>({domain:dy(t,b),anchor:"x",side:"right",type:"category",range:[-.5,.5],showgrid:false,zeroline:false,showline:false,
  ticks:"outside",ticklen:3,tickcolor:"rgba(0,0,0,0)",tickfont:{family:FONT,size:18,color:"#000",weight:700}});

const shapes=[],annotations=[];
legendSections.forEach(s=>{
  annotations.push({xref:"paper",yref:"paper",x:946/W,y:1-(s.top+14)/H,xanchor:"left",yanchor:"middle",showarrow:false,text:s.title,
    font:{family:FONT,size:18,color:"#000",weight:700}});
  s.labels.forEach((l,i)=>{
    const t=s.top+27+i*28;
    shapes.push({type:"rect",xref:"paper",yref:"paper",x0:948/W,x1:976/W,y0:1-t/H,y1:1-(t+28)/H,fillcolor:s.colors[i],line:{width:0}});
    annotations.push({xref:"paper",yref:"paper",x:980/W,y:1-(t+15)/H,xanchor:"left",yanchor:"middle",showarrow:false,text:l,
      font:{family:FONT,size:18,color:"#000"}});
  });
});

const layout={width:W,height:H,margin:{l:0,r:0,t:0,b:0},paper_bgcolor:"#fff",plot_bgcolor:"rgba(0,0,0,0)",showlegend:false,
 font:{family:FONT,color:"#000"},
 title:{text:titleText,x:0,xanchor:"left",xref:"paper",y:1-14/H,yref:"container",yanchor:"middle",font:{family:FONT,size:24.2,color:"#000",weight:700},pad:{l:0,r:0,t:0,b:0}},
 xaxis:Object.assign({domain:dx(224,758),range:[-.5,nCols-.5],anchor:"y"},hidden),
 yaxis:{domain:dy(299,1276),range:[44.5,-.5],anchor:"x",side:"right",showgrid:false,zeroline:false,showline:false,tickmode:"array",
   tickvals:genes.map((g,i)=>i),ticktext:genes,ticks:"outside",ticklen:3,tickcolor:"rgba(0,0,0,0)",tickfont:{family:FONT,size:18,color:"#000"}},
 xaxis2:Object.assign({domain:dx(0,147),range:[0,147],anchor:"y"},hidden),
 xaxis3:{domain:dx(146.5,218.5),range:[-.5,2.5],anchor:"y",side:"bottom",showgrid:false,zeroline:false,showline:false,tickmode:"array",tickvals:[0,1,2],ticktext:contrasts,tickangle:90,
   ticks:"outside",ticklen:4,tickcolor:"rgba(0,0,0,0)",tickfont:{family:FONT,size:18,color:"#000",weight:700}},
 yaxis2:annoAxis(176,195),yaxis3:annoAxis(200,219),yaxis4:annoAxis(224,243),yaxis5:annoAxis(248,267),yaxis6:annoAxis(272,291),
 yaxis7:Object.assign({domain:dy(34,174),range:[0,140],anchor:"x"},hidden),
 shapes,annotations};
Plotly.newPlot("chart",traces,layout,{displayModeBar:false,responsive:false});
</script></body></html>
